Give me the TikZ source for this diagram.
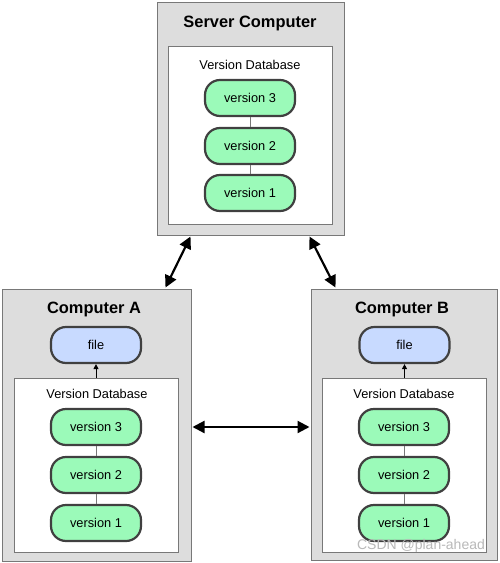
\documentclass[tikz,border=0pt]{standalone}
\usepackage{fontspec}
\setmainfont{Liberation Sans}
\usetikzlibrary{arrows.meta}
\definecolor{boxgray}{RGB}{221,221,221}
\definecolor{edgegray}{RGB}{120,120,120}
\definecolor{pillgreen}{RGB}{155,250,185}
\definecolor{pillblue}{RGB}{200,218,255}
\definecolor{pilledge}{RGB}{64,64,64}
\tikzset{
  machine/.style={draw=edgegray,fill=boxgray,line width=1pt,inner sep=0pt},
  database/.style={draw=edgegray,fill=white,line width=1pt,inner sep=0pt},
  title/.style={font=\fontsize{16.4}{18}\selectfont\bfseries},
  label/.style={font=\fontsize{12.8}{14}\selectfont},
  version/.style={draw=pilledge,fill=pillgreen,line width=2.2pt,rounded corners=15pt,
    minimum width=90pt,minimum height=36pt,inner sep=0pt,font=\fontsize{12.8}{14}\selectfont},
  file/.style={version,fill=pillblue},
  link/.style={draw=edgegray,line width=1pt},
  sync/.style={line width=2.2pt,{Triangle[length=12pt,width=12pt]}-{Triangle[length=12pt,width=12pt]}}
}
\begin{document}
\begin{tikzpicture}[x=1pt,y=-1pt]
\useasboundingbox (0,0) rectangle (500,563);
% server
\node[machine,minimum width=187pt,minimum height=233pt] (server) at (250.5,118.5) {};
\node[database,minimum width=164pt,minimum height=178pt] (dbS) at (250,135) {};
\node[title] (tS) at (250,23) {Server Computer};
\node[label] (lS) at (250,65) {Version Database};
\node[version] (s3) at (250,98)  {version 3};
\node[version] (s2) at (250,146) {version 2};
\node[version] (s1) at (250,193) {version 1};
%
\draw[link] (s3) -- (s2);
\draw[link] (s2) -- (s1);
% computer A
\node[machine,minimum width=189pt,minimum height=272pt] (compA) at (96.5,425) {};
\node[database,minimum width=164pt,minimum height=174pt] (dbA) at (96,465) {};
\node[title] (tA) at (94,309) {Computer A};
\node[file] (fileA) at (96,345) {file};
\node[label] (lA) at (97,394) {Version Database};
\node[version] (a3) at (96,427) {version 3};
\node[version] (a2) at (96,475) {version 2};
\node[version] (a1) at (96,523) {version 1};
%
\draw[link] (a3) -- (a2);
\draw[link] (a2) -- (a1);
\draw[line width=1pt,-{Triangle[length=5pt,width=5pt]}] (fileA.south |- dbA.north) -- (fileA.south);
% computer B
\node[machine,minimum width=186pt,minimum height=271pt] (compB) at (404,424.5) {};
\node[database,minimum width=164pt,minimum height=174pt] (dbB) at (404,465) {};
\node[title] (tB) at (402,309) {Computer B};
\node[file] (fileB) at (404.5,345) {file};
\node[label] (lB) at (404,394) {Version Database};
\node[version] (b3) at (404,427) {version 3};
\node[version] (b2) at (404,475) {version 2};
\node[version] (b1) at (404,523) {version 1};
%
\draw[link] (b3) -- (b2);
\draw[link] (b2) -- (b1);
\draw[line width=1pt,-{Triangle[length=5pt,width=5pt]}] (fileB.south |- dbB.north) -- (fileB.south);
% syncing
\draw[sync] ([xshift=34pt,yshift=-1pt]server.south west) -- ([xshift=-26pt,yshift=1pt]compA.north east);
\draw[sync] ([xshift=-35pt,yshift=-1pt]server.south east) -- ([xshift=25pt,yshift=1pt]compB.north west);
\draw[sync] ([xshift=1pt]compA.east |- a3) -- ([xshift=-1pt]compB.west |- a3);
% watermark
\node[font=\fontsize{14}{16}\selectfont,text=gray!55] (mark) at (421,546) {CSDN @plan-ahead};
\end{tikzpicture}
\end{document}
